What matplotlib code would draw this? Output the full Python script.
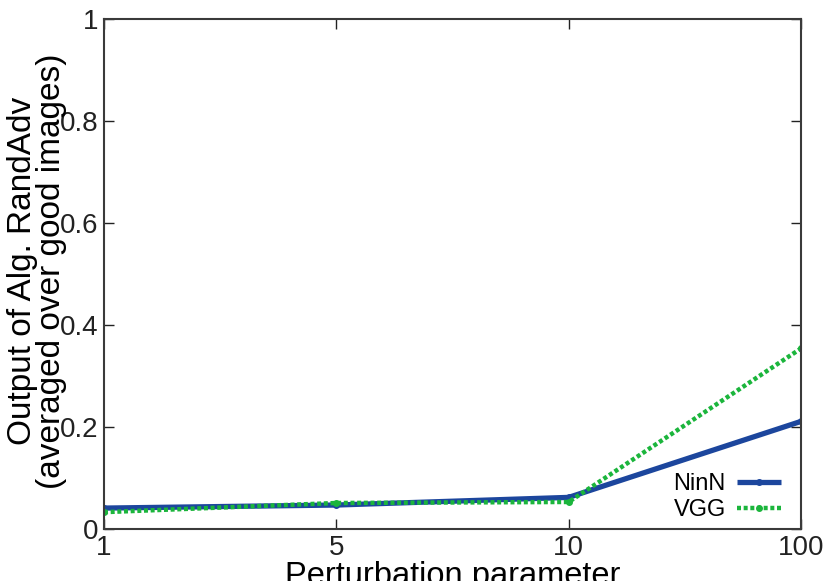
import matplotlib
matplotlib.use('Agg')
import matplotlib.pyplot as plt

plt.rcParams['font.family'] = ['Liberation Sans', 'DejaVu Sans']

x_labels = ['1', '5', '10', '100']
ninn = [0.041, 0.047, 0.062, 0.211]
vgg = [0.033, 0.051, 0.053, 0.354]
y_ticks = [0, 0.2, 0.4, 0.6, 0.8, 1]
y_tick_labels = ['0', '0.2', '0.4', '0.6', '0.8', '1']

fig = plt.figure(figsize=(8.3, 5.81), dpi=100)
ax = fig.add_axes([104 / 830, 1 - 529 / 581, 697 / 830, 510 / 581])

pos = list(range(len(x_labels)))
ax.plot(pos, ninn, color='#1c469d', lw=3.8, marker='o', ms=4,
        solid_capstyle='butt', label='NinN')
ax.plot(pos, vgg, color='#1bb53c', lw=3.2, marker='o', ms=4,
        linestyle=(0, (0.9, 0.6)), dash_capstyle='butt', label='VGG')

ax.set_xlim(0, 3)
ax.set_ylim(0, 1)
ax.set_xticks(pos)
ax.set_xticklabels(x_labels)
ax.set_yticks(y_ticks)
ax.set_yticklabels(y_tick_labels)
ax.tick_params(direction='in', length=7, width=1, labelsize=20, colors='#222222',
               top=True, right=True, pad=4)
for s in ax.spines.values():
    s.set_color('#3a3a3a')
    s.set_linewidth(1.5)

ax.set_xlabel('Perturbation parameter', fontsize=23.5, labelpad=0)
fig.text(37 / 830, 1 - 271 / 581,
         'Output of Alg. RandAdv\n(averaged over good images)',
         rotation=90, ha='center', va='center', fontsize=24,
         linespacing=0.95)

leg = ax.legend(loc='lower right', frameon=False, fontsize=17, markerfirst=False,
                handlelength=1.87, handletextpad=0.47, labelspacing=0.15,
                borderpad=0, borderaxespad=0,
                bbox_to_anchor=((781 - 104) / 697, 8 / 511))

fig.savefig('out.png', dpi=100)
